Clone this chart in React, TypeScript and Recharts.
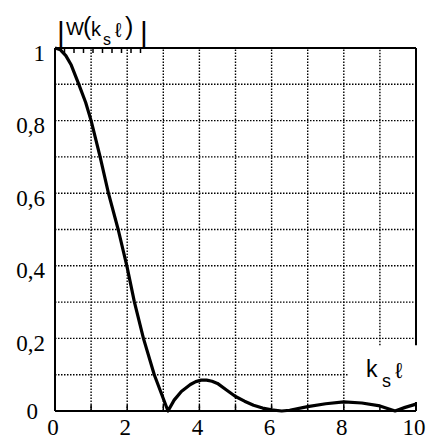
import { Label, Line, LineChart, ReferenceLine, XAxis, YAxis } from "recharts"

// |W(k_s l)|
const kValues = [0, 0.15, 0.3, 0.45, 0.66, 0.85, 1.0, 1.25, 1.48, 1.75, 1.99, 2.2, 2.45, 2.75, 3.13,
  3.3, 3.5, 3.75, 3.9, 4.05, 4.2, 4.35, 4.5, 4.75, 5.0, 5.25, 5.5, 5.75, 6.0, 6.28,
  6.5, 7.0, 7.5, 8.0, 8.5, 9.0, 9.42, 9.7, 10]
const wValues = [1, 0.995, 0.979, 0.953, 0.9, 0.85, 0.8, 0.7, 0.6, 0.5, 0.4, 0.3, 0.2, 0.1, 0,
  0.03, 0.054, 0.073, 0.081, 0.085, 0.085, 0.082, 0.076, 0.058, 0.04, 0.027, 0.016, 0.008, 0.003, 0,
  0.002, 0.012, 0.02, 0.025, 0.022, 0.014, 0, 0.01, 0.019]

const xTicks = [0, 1, 2, 3, 4, 5, 6, 7, 8, 9, 10]
const xLabels = [0, 2, 4, 6, 8, 10]
const yTicks = [0, 0.2, 0.4, 0.6, 0.8, 1]
const yMinor = [0, 0.1, 0.2, 0.3, 0.4, 0.5, 0.6, 0.7, 0.8, 0.9, 1]
const yGrid = [0.2, 0.3, 0.4, 0.5, 0.6, 0.7, 0.8, 0.9]
const xGrid = [1, 2, 3, 4, 5, 6, 7, 8]

const data = kValues.map((k, i) => ({ k, w: wValues[i] }))

const serif = "'Liberation Serif', 'Times New Roman', Tinos, 'DejaVu Serif', 'Noto Serif', serif"
const sans = "'Liberation Sans', Arial, Arimo, 'DejaVu Sans', sans-serif"
const dots = "1.5 1.5"

const fmt = (v: number) => String(v).replace(".", ",")

function BottomTick({ x, y, payload }: any) {
  const v = payload.value
  return (
    <g>
      <line x1={x} x2={x} y1={y} y2={y - 6} stroke="#000" strokeWidth={1.5} />
      {xLabels.includes(v) && (
        <text x={x - 2} y={y + 24} textAnchor="middle" fontFamily={serif} fontSize={23} fill="#000">
          {v}
        </text>
      )}
    </g>
  )
}

function TopTick({ x, y, payload }: any) {
  if (payload.value === 0 || payload.value === 10) return null
  return <line x1={x} x2={x} y1={y} y2={y + 5} stroke="#000" strokeWidth={1.5} />
}

function LeftTick({ y, payload }: any) {
  const v = payload.value
  const zero = v === 0
  return (
    <text
      x={zero ? 38 : 45}
      y={y + (zero ? 7.5 : 12.5)}
      textAnchor="end"
      fontFamily={serif}
      fontSize={23}
      fill="#000"
    >
      {fmt(v)}
    </text>
  )
}

function RightTick({ x, y, payload }: any) {
  const v = payload.value
  if (v === 0 || v === 1 || v === 0.1) return null
  return <line x1={x} x2={x - 5} y1={y} y2={y} stroke="#000" strokeWidth={1.5} />
}

function TopLabel() {
  return (
    <g fontFamily={sans} fill="#000">
      <text x={61} y={43} fontSize={30} textAnchor="middle">|</text>
      <text x={66} y={35} fontSize={19}>W</text>
      <text x={83} y={35} fontSize={25}>(</text>
      <text x={91} y={36} fontSize={20}>k</text>
      <text x={103} y={45} fontSize={16}>s</text>
      <text x={115} y={37} fontSize={20}>ℓ</text>
      <text x={125} y={35} fontSize={25}>)</text>
      <text x={144} y={43} fontSize={30} textAnchor="middle">|</text>
    </g>
  )
}

function BottomLabel() {
  return (
    <g fontFamily={sans} fill="#000">
      <text x={366} y={377} fontSize={23}>k</text>
      <text x={382} y={387} fontSize={18}>s</text>
      <text x={395} y={378} fontSize={22}>ℓ</text>
    </g>
  )
}

export default function App() {
  return (
    <div style={{ position: "absolute", left: 0, top: 0, background: "#fff" }}>
      <LineChart width={430} height={439} data={data} margin={{ top: 47, right: 13, bottom: 0, left: 0 }}>
        {xGrid.map((v) => (
          <ReferenceLine key={`vx${v}`} x={v} stroke="#000" strokeWidth={1.4} strokeDasharray={dots} />
        ))}
        <ReferenceLine
          segment={[{ x: 9, y: 0.181 }, { x: 9, y: 1 }]}
          stroke="#000"
          strokeWidth={1.4}
          strokeDasharray={dots}
        />
        {yGrid.map((v) => (
          <ReferenceLine key={`hy${v}`} y={v} stroke="#000" strokeWidth={1.4} strokeDasharray={dots} />
        ))}
        <ReferenceLine
          segment={[{ x: 0, y: 0.1 }, { x: 8.12, y: 0.1 }]}
          stroke="#000"
          strokeWidth={1.4}
          strokeDasharray={dots}
        />
        <ReferenceLine segment={[{ x: 10, y: 0.181 }, { x: 10, y: 1 }]} stroke="#000" strokeWidth={2} />
        <ReferenceLine segment={[{ x: 10, y: 0 }, { x: 10, y: 0.025 }]} stroke="#000" strokeWidth={2} />
        <ReferenceLine segment={[{ x: 0, y: 1 }, { x: 10, y: 1 }]} stroke="#000" strokeWidth={2} />
        <XAxis
          dataKey="k"
          type="number"
          domain={[0, 10]}
          ticks={xTicks}
          height={28}
          tickSize={0}
          tickMargin={0}
          tickLine={false}
          axisLine={{ stroke: "#000", strokeWidth: 2 }}
          tick={<BottomTick />}
          interval={0}
        >
          <Label content={() => <BottomLabel />} />
        </XAxis>
        <XAxis
          xAxisId="top"
          orientation="top"
          type="number"
          domain={[0, 10]}
          ticks={xTicks}
          height={1}
          tickSize={0}
          tickMargin={0}
          tickLine={false}
          axisLine={false}
          tick={<TopTick />}
          interval={0}
        >
          <Label content={() => <TopLabel />} />
        </XAxis>
        <YAxis
          type="number"
          domain={[0, 1]}
          ticks={yTicks}
          width={55}
          tickSize={0}
          tickMargin={0}
          tickLine={false}
          axisLine={{ stroke: "#000", strokeWidth: 2 }}
          tick={<LeftTick />}
          interval={0}
        />
        <YAxis
          yAxisId="right"
          orientation="right"
          type="number"
          domain={[0, 1]}
          ticks={yMinor}
          width={1}
          tickSize={0}
          tickMargin={0}
          tickLine={false}
          axisLine={false}
          tick={<RightTick />}
          interval={0}
        />
        <Line
          dataKey="w"
          type="linear"
          stroke="#000"
          strokeWidth={3.2}
          dot={false}
          isAnimationActive={false}
          strokeLinejoin="round"
        />
      </LineChart>
    </div>
  )
}
